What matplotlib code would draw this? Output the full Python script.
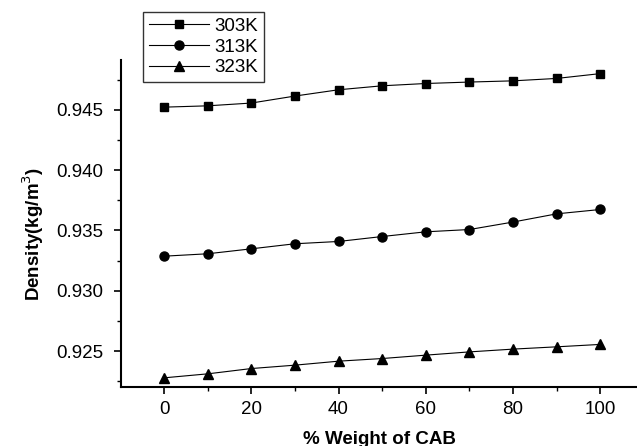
import matplotlib.pyplot as plt
from matplotlib.ticker import MultipleLocator

plt.rcParams['font.family'] = ['Liberation Sans', 'DejaVu Sans']

weight = [0, 10, 20, 30, 40, 50, 60, 70, 80, 90, 100]
d303 = [0.94522, 0.94533, 0.94556, 0.94614, 0.94666, 0.94699, 0.94718, 0.94730, 0.94740, 0.94760, 0.94800]
d313 = [0.93287, 0.93307, 0.93348, 0.93390, 0.93409, 0.93450, 0.93489, 0.93508, 0.93570, 0.93638, 0.93674]
d323 = [0.92279, 0.92312, 0.92356, 0.92384, 0.92417, 0.92439, 0.92467, 0.92494, 0.92517, 0.92536, 0.92556]

fig = plt.figure(figsize=(6.37, 4.46), dpi=100)
ax = fig.add_axes([0.19, 0.132, 0.81, 0.733])

h1, = ax.plot(weight, d303, 'k-', marker='s', ms=6, lw=0.8, label='303K')
h2, = ax.plot(weight, d313, 'k-', marker='o', ms=6.5, lw=0.8, label='313K')
h3, = ax.plot(weight, d323, 'k-', marker='^', ms=7, lw=0.8, label='323K')

ax.set_xlim(-9.85, 108.4)
ax.set_ylim(0.92202, 0.94911)
ax.xaxis.set_major_locator(MultipleLocator(20))
ax.xaxis.set_minor_locator(MultipleLocator(10))
ax.yaxis.set_major_locator(MultipleLocator(0.005))
ax.yaxis.set_minor_locator(MultipleLocator(0.0025))
ax.yaxis.set_major_formatter(plt.FormatStrFormatter('%.3f'))

for s in ['top', 'right']:
    ax.spines[s].set_visible(False)
for s in ['left', 'bottom']:
    ax.spines[s].set_linewidth(1.5)

ax.tick_params(which='major', direction='out', length=5, width=1.2, labelsize=13.5)
ax.tick_params(axis='x', which='major', pad=5)
ax.tick_params(axis='y', which='major', pad=8)
ax.tick_params(which='minor', direction='out', length=3, width=1.0)

ax.set_xlabel('% Weight of CAB', fontsize=13.5, fontweight='bold', labelpad=9)
ax.set_ylabel('Density(kg/m$^3$)', fontsize=13.5, fontweight='bold')
ax.yaxis.set_label_coords(-0.145, 0.47)

# legend sits above the axes, in figure coords
leg = fig.legend(handles=[h1, h2, h3], loc='upper left', bbox_to_anchor=(143 / 637, 1 - 12 / 446),
                 frameon=True, fancybox=False, edgecolor='black', fontsize=13.5,
                 handlelength=3.2, handletextpad=0.3, borderpad=0.3, labelspacing=0.2,
                 borderaxespad=0)
leg.get_frame().set_linewidth(1.0)

fig.savefig('out.png', dpi=100)
